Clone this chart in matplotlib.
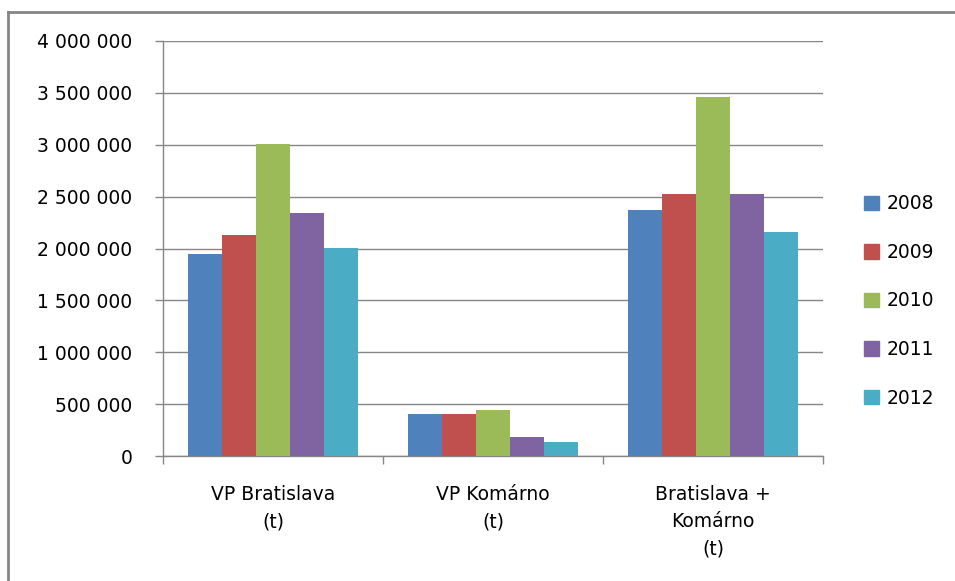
import numpy as np
import matplotlib
matplotlib.use('Agg')
from matplotlib import pyplot as plt
from matplotlib.ticker import FuncFormatter
from matplotlib.lines import Line2D

categories = ["VP Bratislava\n(t)", "VP Komárno\n(t)", "Bratislava +\nKomárno\n(t)"]
years = ["2008", "2009", "2010", "2011", "2012"]
colors = ["#4F81BD", "#C0504D", "#9BBB59", "#8064A2", "#4BACC6"]

v2008 = [1947000, 408000, 2371000]
v2009 = [2130000, 408000, 2530000]
v2010 = [3007000, 446000, 3457000]
v2011 = [2342000, 186000, 2530000]
v2012 = [2005000, 138000, 2159000]
values = [v2008, v2009, v2010, v2011, v2012]

plt.rcParams['font.family'] = ['DejaVu Sans']
grey = "#868686"

fig = plt.figure(figsize=(9.55, 5.81), dpi=100)
ax = fig.add_axes([163/955, 125/581, 660/955, 415/581])

x = np.arange(len(categories))
bw = 1 / 6.5
for i, (yr, vals) in enumerate(zip(years, values)):
   ax.bar(x + (i - 2) * bw, vals, width=bw, color=colors[i], label=yr, zorder=3)

ax.set_xlim(-0.5, 2.5)
ax.set_ylim(0, 4000000)
ax.set_yticks(np.arange(0, 4000001, 500000))
ax.yaxis.set_major_formatter(FuncFormatter(lambda v, p: "{:,}".format(int(v)).replace(",", " ")))
ax.grid(axis='y', color=grey, linewidth=1.0, zorder=0)

ax.set_xticks(x)
ax.set_xticklabels(categories, fontsize=13.5, linespacing=1.55)
ax.set_xticks([-0.5, 0.5, 1.5, 2.5], minor=True)
ax.tick_params(axis='x', which='major', length=0, pad=21)
ax.tick_params(axis='x', which='minor', length=6, color=grey, width=1.0, direction='out')
ax.tick_params(axis='y', length=6, color=grey, width=1.0, labelsize=13.5, pad=16)

for s in ['top', 'right']:
   ax.spines[s].set_visible(False)
for s in ['left', 'bottom']:
   ax.spines[s].set_color(grey)
   ax.spines[s].set_linewidth(1.0)

handles = [plt.Rectangle((0, 0), 1, 1, color=c) for c in colors]
fig.legend(handles, years, loc='center left', bbox_to_anchor=(864/955, 1 - 301/581),
           frameon=False, fontsize=13.5, handlelength=0.8, handleheight=0.8,
           handletextpad=0.4, labelspacing=1.58, borderpad=0, borderaxespad=0)

# outer chart frame (cut off at right and bottom)
fig.add_artist(Line2D([8/955, 8/955], [0, 1 - 12/581], transform=fig.transFigure, color=grey, linewidth=2))
fig.add_artist(Line2D([8/955, 1], [1 - 12/581, 1 - 12/581], transform=fig.transFigure, color=grey, linewidth=2))

fig.savefig("out.png", dpi=100)
